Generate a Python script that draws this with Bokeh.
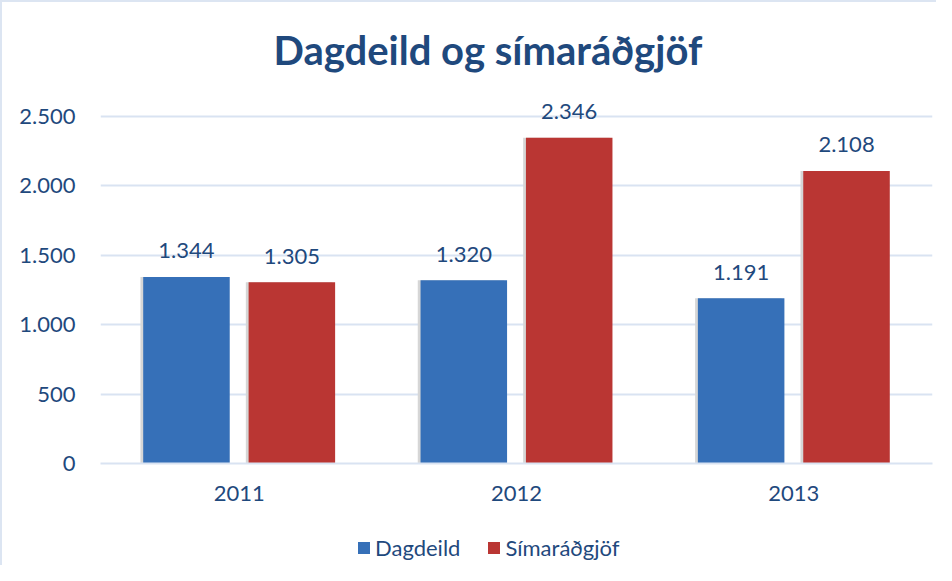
from bokeh.plotting import figure
from bokeh.layouts import column
from bokeh.models import ColumnDataSource, FactorRange, FixedTicker, Legend, LegendItem, Title, Range1d
from bokeh.transform import dodge
from bokeh.core.properties import value
from bokeh.embed import file_html
from bokeh.resources import INLINE

years = ["2011", "2012", "2013"]
dagdeild = [1344, 1320, 1191]
simaradgjof = [1305, 2346, 2108]
series_names = ["Dagdeild", "Símaráðgjöf"]
y_ticks = [0, 500, 1000, 1500, 2000, 2500]
y_tick_labels = ["0", "500", "1.000", "1.500", "2.000", "2.500"]
title_text = "Dagdeild og símaráðgjöf"

def fmt(v):
    return f"{v:,}".replace(",", ".")

TXT = "#1F497D"
FONT = "Lato"
BLUE = "#3670B8"
RED = "#BA3633"
GRID = "#D9E3F2"

src = ColumnDataSource(dict(
    year=years,
    d=dagdeild,
    s=simaradgjof,
    dl=[fmt(v) for v in dagdeild],
    sl=[fmt(v) for v in simaradgjof],
))

p = figure(width=934, height=520, x_range=FactorRange(*years), y_range=(0, 2644),
           output_backend="svg", toolbar_location=None,
           min_border_left=98, min_border_right=4, min_border_top=94, min_border_bottom=59)
p.x_range.range_padding = 0
p.outline_line_color = None
p.background_fill_color = "white"
p.border_fill_color = "white"

p.add_layout(Title(text=" ", text_font_size="5px"), "above")
p.add_layout(Title(text=title_text, align="left", offset=173, text_font=FONT, text_font_size="40px",
                   text_font_style="bold", text_color=TXT), "above")

W = 0.312
OFF = 0.19
# shadows
p.vbar(x=dodge("year", -OFF - 0.01, range=p.x_range), top="d", width=W, source=src,
       fill_color="#D6D6D6", line_color=None)
p.vbar(x=dodge("year", OFF - 0.01, range=p.x_range), top="s", width=W, source=src,
       fill_color="#D6D6D6", line_color=None)
p.vbar(x=dodge("year", -OFF, range=p.x_range), top="d", width=W, source=src,
       fill_color=BLUE, line_color=None)
p.vbar(x=dodge("year", OFF, range=p.x_range), top="s", width=W, source=src,
       fill_color=RED, line_color=None)

p.text(x=dodge("year", -OFF, range=p.x_range), y="d", text="dl", source=src,
       text_align="center", text_baseline="alphabetic", y_offset=-26,
       text_font=value(FONT), text_font_size="22px", text_color=TXT)
p.text(x=dodge("year", OFF, range=p.x_range), y="s", text="sl", source=src,
       text_align="center", text_baseline="alphabetic", y_offset=-26,
       text_font=value(FONT), text_font_size="22px", text_color=TXT)

p.xgrid.grid_line_color = None
p.ygrid.grid_line_color = GRID
p.ygrid.grid_line_width = 2
p.yaxis.ticker = FixedTicker(ticks=y_ticks)
p.yaxis.major_label_overrides = {t_: l for t_, l in zip(y_ticks, y_tick_labels)}

for ax in (p.xaxis[0], p.yaxis[0]):
    ax.axis_line_color = None
    ax.major_tick_line_color = None
    ax.minor_tick_line_color = None
    ax.major_label_text_font = FONT
    ax.major_label_text_font_size = "22px"
    ax.major_label_text_color = TXT
p.yaxis.major_label_standoff = 19
p.xaxis.major_label_standoff = 16
p.xaxis.axis_line_color = GRID
p.xaxis.axis_line_width = 2

# legend strip
lf = figure(width=934, height=43, x_range=Range1d(0, 1), y_range=Range1d(0, 1),
            output_backend="svg", toolbar_location=None,
            min_border_left=0, min_border_right=0, min_border_top=0, min_border_bottom=0)
lf.axis.visible = False
lf.grid.visible = False
lf.outline_line_color = None
empty = ColumnDataSource(dict(x=[0], top=[0]))
lb = lf.vbar(x="x", top="top", width=0.0, source=empty, fill_color=BLUE, line_color=None)
lr = lf.vbar(x="x", top="top", width=0.0, source=empty, fill_color=RED, line_color=None)
legend = Legend(items=[LegendItem(label=series_names[0], renderers=[lb]),
                       LegendItem(label=series_names[1], renderers=[lr])],
                orientation="horizontal", location=(256, 4),
                label_text_font=FONT, label_text_font_size="22px", label_text_color=TXT,
                glyph_width=15, glyph_height=15, spacing=26, label_standoff=4,
                border_line_color=None, background_fill_alpha=0, margin=0, padding=0)
lf.add_layout(legend, "center")

layout = column(p, lf, spacing=0,
                styles={"border-left": "2px solid #DCE5F2", "border-top": "2px solid #DCE5F2"})

open("out.html", "w").write(file_html(layout, INLINE))
